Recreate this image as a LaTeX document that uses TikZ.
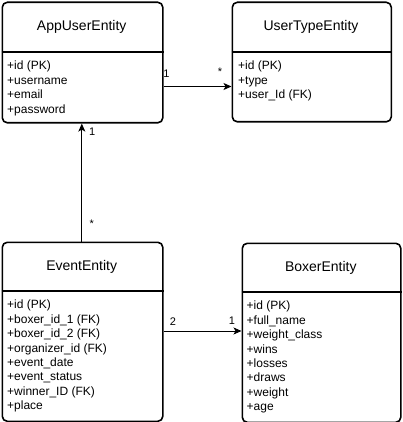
\documentclass[tikz,border=0pt]{standalone}
\usepackage{fontspec}
\setmainfont{Liberation Sans}
\usetikzlibrary{arrows.meta}
\begin{document}
\begin{tikzpicture}[x=1pt,y=-1pt,
  entity/.style={draw, line width=1.6pt, rounded corners=5pt, inner sep=0pt, anchor=north west},
  divider/.style={line width=2pt},
  title/.style={font=\fontsize{14}{16}\selectfont, inner sep=0pt},
  attrs/.style={font=\fontsize{12}{14.4}\selectfont, inner sep=0pt, anchor=north west, align=left},
  conn/.style={line width=0.9pt, -{Stealth[length=8pt,width=7pt,inset=2pt]}},
  mult/.style={font=\fontsize{11}{13}\selectfont, inner sep=0pt}]
\useasboundingbox (0,0) rectangle (402,422);
% boxes
\node[entity, minimum width=160.5pt, minimum height=120.5pt] (app) at (1.5,1.5) {};
\node[entity, minimum width=159pt, minimum height=119.5pt] (ut) at (231.5,1.5) {};
\node[entity, minimum width=160.5pt, minimum height=179pt] (ev) at (1.5,241.5) {};
\node[entity, minimum width=158.5pt, minimum height=179pt] (bx) at (241.5,242.5) {};
% dividers
\draw[divider] (app.west |- 0,52) -- (app.east |- 0,52);
\draw[divider] (ut.west |- 0,52) -- (ut.east |- 0,52);
\draw[divider] (ev.west |- 0,291) -- (ev.east |- 0,291);
\draw[divider] (bx.west |- 0,292) -- (bx.east |- 0,292);
% titles
\node[title] (appt) at (81.7,27) {AppUserEntity};
\node[title] (utt) at (311,27) {UserTypeEntity};
\node[title] (evt) at (81.7,266.8) {EventEntity};
\node[title] (bxt) at (320.8,267.5) {BoxerEntity};
% attributes
\node[attrs] (appa) at (7,61) {+id (PK)\\+username\\+email\\+password};
\node[attrs] (uta) at (238,61) {+id (PK)\\+type\\+user\_Id (FK)};
\node[attrs] (eva) at (7,300) {+id (PK)\\+boxer\_id\_1 (FK)\\+boxer\_id\_2 (FK)\\+organizer\_id (FK)\\+event\_date\\+event\_status\\+winner\_ID (FK)\\+place};
\node[attrs] (bxa) at (246.5,301) {+id (PK)\\+full\_name\\+weight\_class\\+wins\\+losses\\+draws\\+weight\\+age};
% connectors
\draw[conn] (app.east |- 0,86.5) -- (ut.west |- 0,86.5);
\draw[conn] (ev.north -| 81.8,0) -- (app.south -| 81.8,0);
\draw[conn] (ev.east |- 0,331) -- (bx.west |- 0,331);
% multiplicities
\node[mult] (m1) at (166.5,73.5) {1};
\node[mult] (m2) at (220,72) {*};
\node[mult] (m3) at (92.3,132) {1};
\node[mult] (m4) at (91.7,224) {*};
\node[mult] (m5) at (173,322) {2};
\node[mult] (m6) at (232,321) {1};
\end{tikzpicture}
\end{document}
